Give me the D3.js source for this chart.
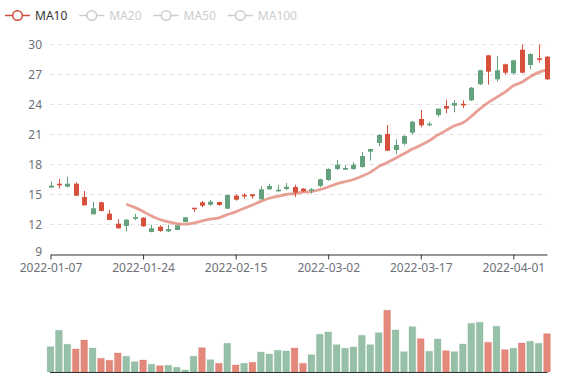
<!DOCTYPE html>
<html><head><meta charset="utf-8">
<script src="https://cdn.jsdelivr.net/npm/d3@7"></script>
<style>html,body{margin:0;padding:0;background:#fff;} svg{display:block;font-family:"Noto Sans",sans-serif;}</style>
</head><body>
<svg id="chart" width="577" height="380"></svg>
<script>
const dates = ["2022-01-07","2022-01-10","2022-01-11","2022-01-12","2022-01-13","2022-01-14","2022-01-17","2022-01-18","2022-01-19","2022-01-20",
"2022-01-21","2022-01-24","2022-01-25","2022-01-26","2022-01-27","2022-01-28","2022-02-07","2022-02-08","2022-02-09","2022-02-10",
"2022-02-11","2022-02-14","2022-02-15","2022-02-16","2022-02-17","2022-02-18","2022-02-21","2022-02-22","2022-02-23","2022-02-24",
"2022-02-25","2022-02-28","2022-03-01","2022-03-02","2022-03-03","2022-03-04","2022-03-07","2022-03-08","2022-03-09","2022-03-10",
"2022-03-11","2022-03-14","2022-03-15","2022-03-16","2022-03-17","2022-03-18","2022-03-21","2022-03-22","2022-03-23","2022-03-24",
"2022-03-25","2022-03-28","2022-03-29","2022-03-30","2022-03-31","2022-04-01","2022-04-06","2022-04-07","2022-04-08","2022-04-11"];
const open  = [15.67,15.98,15.76,16.06,14.73,13.00,14.20,13.06,12.06,11.83,
12.56,12.66,11.23,11.76,11.30,11.43,12.23,13.58,14.20,13.96,
14.23,13.56,14.86,14.87,15.00,14.50,15.50,15.33,15.53,15.73,
15.56,15.36,15.83,16.43,17.53,17.46,17.53,17.73,19.26,20.13,
21.03,19.43,20.06,21.16,22.53,21.90,22.93,23.83,23.86,23.97,
24.40,26.00,28.90,26.50,28.00,27.10,29.46,27.93,28.52,28.76];
const close = [15.87,15.98,16.06,14.86,13.90,13.60,13.33,12.43,11.60,12.46,
12.73,11.80,11.60,11.33,11.53,11.90,12.70,13.58,13.86,14.26,
13.93,14.93,14.46,14.87,14.80,15.50,15.83,15.46,15.76,15.16,
15.30,15.50,16.50,17.53,17.96,17.63,17.96,18.83,19.53,20.93,
19.36,19.93,20.83,22.26,21.90,22.06,23.56,23.56,24.13,23.97,
25.66,27.40,27.26,27.40,27.16,28.40,27.16,29.03,28.52,26.50];
const low   = [15.65,15.60,15.70,14.84,13.86,12.98,13.30,12.40,11.56,11.30,
12.40,11.77,11.20,11.26,11.23,11.40,12.20,13.23,13.70,13.86,
13.86,13.53,14.36,14.56,14.56,14.46,15.46,15.20,15.43,14.73,
15.23,15.06,15.70,16.36,17.43,17.43,17.43,17.66,18.36,19.80,
19.36,19.00,19.90,20.96,21.70,21.80,22.76,23.10,23.20,23.63,
24.33,25.93,25.96,26.26,26.96,26.96,27.10,27.50,28.16,26.43];
const high  = [16.27,16.53,16.76,16.20,15.33,14.23,14.26,13.43,12.50,12.53,
13.03,12.70,11.96,11.90,11.96,11.93,12.73,13.62,14.33,14.43,
14.26,14.96,15.00,15.10,15.03,15.83,16.06,15.96,16.13,15.95,
15.63,15.63,16.56,17.60,18.43,17.93,18.23,19.23,19.56,21.00,
21.93,20.50,20.90,22.33,23.43,22.26,23.60,24.46,24.43,24.40,
25.73,27.46,28.93,28.83,28.06,28.46,29.96,29.10,29.96,28.83];
const volume = [25300,41700,27700,23000,32000,24000,13700,11700,19000,15700,
10300,12000,7700,6300,6700,4700,2000,15700,24300,12300,
8700,28700,7000,8700,9700,20000,18000,21700,21000,24000,
8700,17300,37700,40000,27300,23700,25000,36700,27300,39300,
61700,42000,20300,45300,33300,20700,33000,21300,20300,28000,
48700,49700,29700,45700,22300,23700,29000,30700,28700,38300];
const yTicks = [9,12,15,18,21,24,27,30];
const legendNames = ["MA10","MA20","MA50","MA100"];
const activeSeries = ["MA10"];
const maPeriod = 10;
const labelEvery = 11;

const upColor = "#64a27e", downColor = "#d6513c";
const svg = d3.select("#chart");
const x = d3.scalePoint().domain(d3.range(dates.length)).range([50.5, 547]);
const y = d3.scaleLinear().domain([9, 30]).range([254.3, 44.3]);
const yv = d3.scaleLinear().domain([0, 72000]).range([372, 300]);

// grid lines
svg.append("g").selectAll("line").data(yTicks.filter(t => t !== 9)).join("line")
  .attr("x1", 50).attr("x2", 547)
  .attr("y1", d => Math.round(y(d)) + 0.5).attr("y2", d => Math.round(y(d)) + 0.5)
  .attr("stroke", "#e0e0e0").attr("stroke-dasharray", "4,4");

// y axis labels
const ya = svg.append("g").attr("transform", "translate(50,0)")
  .call(d3.axisLeft(y).tickValues(yTicks).tickSize(0).tickPadding(8));
ya.select(".domain").remove();
ya.selectAll("text").attr("fill", "#6e7079").attr("font-size", 12).style("font-family", '"Noto Sans",sans-serif');
ya.selectAll(".tick").filter(d => d === 9).select("text").attr("y", -3);

// x axis
const xa = svg.append("g").attr("transform", `translate(0,${Math.round(y(9)) + 0.5})`)
  .call(d3.axisBottom(x).tickValues(d3.range(dates.length).filter(i => i % labelEvery === 0))
    .tickFormat(i => dates[i]).tickSize(5).tickSizeOuter(0).tickPadding(4));
xa.select(".domain").attr("stroke", "#333");
xa.selectAll(".tick line").attr("stroke", "#333");
xa.selectAll("text").attr("fill", "#6e7079").attr("font-size", 12).style("font-family", '"Noto Sans",sans-serif');

// moving average
const ma = close.map((c, i) => i < maPeriod - 1 ? null : d3.mean(close.slice(i - maPeriod + 1, i + 1)));
svg.append("path")
  .datum(ma.map((v, i) => [i, v]))
  .attr("fill", "none").attr("stroke", downColor).attr("stroke-opacity", 0.55).attr("stroke-width", 2.8)
  .attr("d", d3.line().defined(d => d[1] != null).x(d => x(d[0])).y(d => y(d[1])).curve(d3.curveMonotoneX));

// candles
const isUp = i => close[i] > open[i];
const cg = svg.append("g").selectAll("g").data(d3.range(dates.length)).join("g");
cg.append("line")
  .attr("x1", i => Math.round(x(i)) + 0.5).attr("x2", i => Math.round(x(i)) + 0.5)
  .attr("y1", i => y(high[i])).attr("y2", i => y(low[i]))
  .attr("stroke", i => isUp(i) ? upColor : downColor).attr("stroke-width", 1);
cg.append("rect")
  .attr("x", i => Math.round(x(i)) - 2)
  .attr("width", 5)
  .attr("y", i => y(Math.max(open[i], close[i])) - (open[i] === close[i] ? 0.8 : 0))
  .attr("height", i => Math.max(1.6, Math.abs(y(open[i]) - y(close[i]))))
  .attr("fill", i => isUp(i) ? upColor : downColor);

// volume bars
const volRed = i => open[i] > close[i];
svg.append("g").selectAll("rect").data(d3.range(dates.length)).join("rect")
  .attr("x", i => x(i) - 3.35).attr("width", 6.7)
  .attr("y", i => yv(volume[i])).attr("height", i => 372 - yv(volume[i]))
  .attr("fill", i => volRed(i) ? downColor : upColor).attr("fill-opacity", 0.68)
  .attr("stroke", i => volRed(i) ? downColor : upColor).attr("stroke-opacity", 0.2).attr("stroke-width", 1);
svg.append("line").attr("x1", 50).attr("x2", 547.5).attr("y1", 372.5).attr("y2", 372.5).attr("stroke", "#333");

// legend
let lx = 5;
const lg = svg.append("g");
legendNames.forEach(name => {
  const active = activeSeries.includes(name);
  const col = active ? "#d14b3a" : "#cccccc";
  const g = lg.append("g");
  g.append("line").attr("x1", lx).attr("x2", lx + 25).attr("y1", 15.5).attr("y2", 15.5).attr("stroke", col).attr("stroke-width", 1.5);
  g.append("circle").attr("cx", lx + 12.5).attr("cy", 15.5).attr("r", 4.8).attr("fill", "#fff").attr("stroke", col).attr("stroke-width", 1.5);
  const t = g.append("text").attr("x", lx + 30).attr("y", 15.5).attr("dominant-baseline", "central")
    .attr("font-size", 12).attr("fill", active ? "#333" : "#ccc").text(name);
  lx += 30 + t.node().getComputedTextLength() + 12;
});
</script>
</body></html>
